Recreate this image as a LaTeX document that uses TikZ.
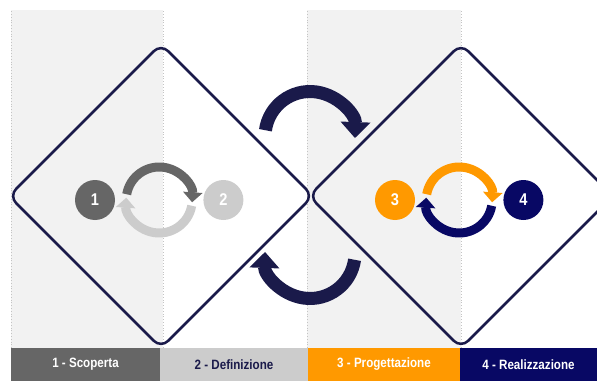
\documentclass[tikz,border=0pt]{standalone}
\usepackage{fontspec}
\setmainfont{Liberation Sans}[FakeStretch=0.86]
\usetikzlibrary{arrows.meta, positioning, calc}

\definecolor{navydark}{RGB}{26,26,74}
\definecolor{navy}{RGB}{8,8,100}
\definecolor{greydark}{RGB}{102,102,102}
\definecolor{greylight}{RGB}{204,204,204}
\definecolor{orangephase}{RGB}{255,153,0}
\definecolor{shade}{RGB}{242,242,242}
\definecolor{dotgrey}{RGB}{196,196,196}

\tikzset{
  phase/.style={draw=none, inner sep=0pt, outer sep=0pt, minimum height=33pt,
    font=\bfseries\fontsize{13.5}{14}\selectfont},
  numcircle/.style={circle, inner sep=0pt, minimum size=40pt, text=white,
    font=\bfseries\fontsize{17}{17}\selectfont},
  diamondline/.style={draw=navydark, line width=2.5pt, rounded corners=10pt},
  smallarc/.style={line width=9pt, -{Triangle[length=10pt, width=19pt]}},
  bigarc/.style={draw=navydark, line width=13pt, -{Triangle[length=16pt, width=29pt]}},
  column/.style={fill=shade, draw=none},
  divider/.style={draw=dotgrey, line width=0.8pt, dotted}
}

\begin{document}
\begin{tikzpicture}[x=1pt, y=1pt]
    \useasboundingbox (0,0) rectangle (597,381);
    \clip (0,0) rectangle (597,381);

    % columns
    \fill[column] (11,33) rectangle (163,371);
    \fill[column] (307,33) rectangle (461,371);
    \foreach \xx in {11,163,307,461}
        \draw[divider] (\xx,33) -- (\xx,371);

    % phases
    \node[phase, fill=greydark, text=white, minimum width=149pt, anchor=south west] (b1) at (11,0) {1 - Scoperta};
    \node[phase, fill=greylight, text=navydark, minimum width=148pt, right=0pt of b1] (b2) {2 - Definizione};
    \node[phase, fill=orangephase, text=white, minimum width=152pt, right=0pt of b2] (b3) {3 - Progettazione};
    \node[phase, fill=navy, text=white, minimum width=137pt, right=0pt of b3] (b4) {4 - Realizzazione};

    % diamonds
    \coordinate (dl) at (161,185);
    \coordinate (dr) at (461,185);
    \draw[diamondline] ($(dl)+(0,152)$) -- ($(dl)+(152,0)$) -- ($(dl)+(0,-152)$) -- ($(dl)+(-152,0)$) -- cycle;
    \draw[diamondline] ($(dr)+(0,152)$) -- ($(dr)+(152,0)$) -- ($(dr)+(0,-152)$) -- ($(dr)+(-152,0)$) -- cycle;

    % big arrows
    \coordinate (mid) at (310,186);
    \coordinate (ctop) at ($(mid)+(0,58.5)$);
    \coordinate (cbot) at ($(mid)+(0,-58.5)$);
    \draw[bigarc] ([shift={(172:45)}]ctop) arc[start angle=172, end angle=-2, radius=45];
    \draw[bigarc] ([shift={(-8:45)}]cbot) arc[start angle=-8, end angle=-182, radius=45];

    % circles
    \node[numcircle, fill=greydark] (c1) at (95,181) {1};
    \node[numcircle, fill=greylight, right=88pt of c1] (c2) {2};
    \node[numcircle, fill=orangephase] (c3) at (395,181) {3};
    \node[numcircle, fill=navy, right=88pt of c3] (c4) {4};

    \coordinate (la) at ($(c1)!0.5!(c2)$);
    \coordinate (ra) at ($(c3)!0.5!(c4)$);
    \draw[smallarc, draw=greydark] ([shift={(170:33)}]la) arc[start angle=170, end angle=-4, radius=33];
    \draw[smallarc, draw=greylight] ([shift={(-10:33)}]la) arc[start angle=-10, end angle=-184, radius=33];
    \draw[smallarc, draw=orangephase] ([shift={(170:33)}]ra) arc[start angle=170, end angle=-4, radius=33];
    \draw[smallarc, draw=navy] ([shift={(-10:33)}]ra) arc[start angle=-10, end angle=-184, radius=33];
\end{tikzpicture}
\end{document}
